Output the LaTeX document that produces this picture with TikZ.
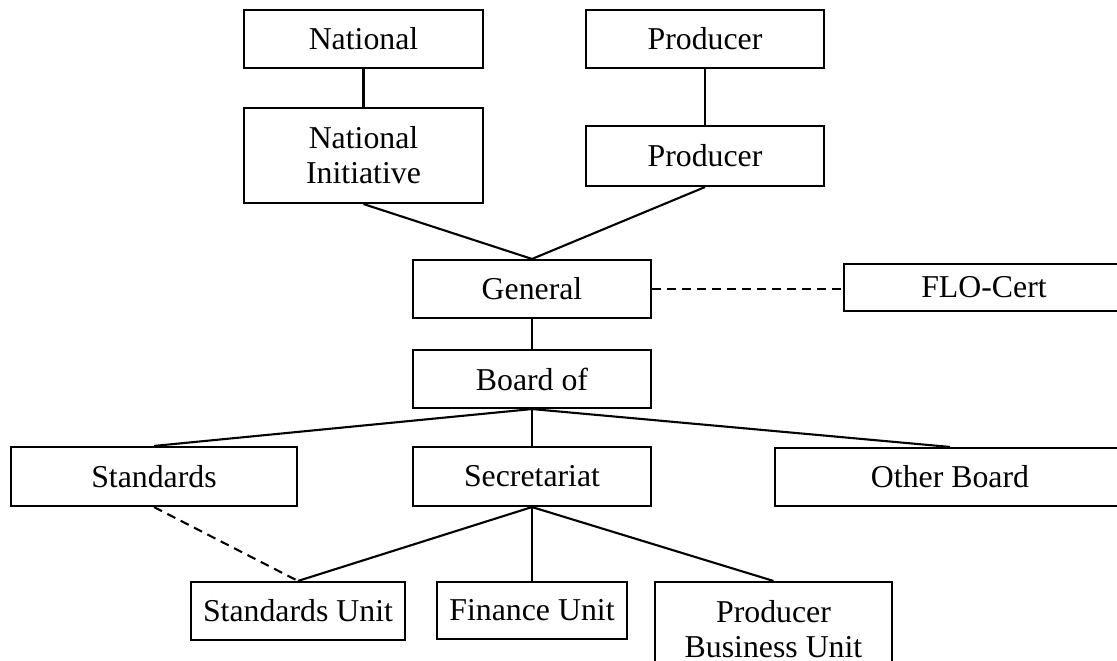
\documentclass[tikz,border=0pt]{standalone}
\usepackage{fontspec}
\setmainfont{Liberation Serif}
\begin{document}
\begin{tikzpicture}[x=1pt,y=-1pt,
  box/.style={draw, line width=2.1pt, inner sep=0pt, align=center,
    font=\fontsize{31.8}{35}\selectfont},
  link/.style={line width=2.1pt},
  dlink/.style={line width=2.1pt, dash pattern=on 9pt off 6pt}]
\useasboundingbox (0,0) rectangle (1117,661);
\clip (0,0) rectangle (1117,661);
\fill[white] (0,0) rectangle (1117,661);
% top row
\node[box, minimum width=239, minimum height=58] (nat) at (363.5,39) {National};
\node[box, minimum width=238, minimum height=58] (prod) at (705,39) {Producer};
\node[box, minimum width=239, minimum height=95] (natinit) at (363.5,155.5) {National\\Initiative};
\node[box, minimum width=238, minimum height=60] (prod2) at (705,156) {Producer};
% middle
\node[box, minimum width=238, minimum height=58] (gen) at (532,289) {General};
\node[box, minimum width=280, minimum height=47] (flo) at (984,287.5) {FLO-Cert};
\node[box, minimum width=238, minimum height=58] (board) at (532,379) {Board of};
% third row
\node[box, minimum width=286, minimum height=59] (std) at (154,476.5) {Standards};
\node[box, minimum width=238, minimum height=59] (sec) at (532,476.5) {Secretariat};
\node[box, minimum width=350, minimum height=58] (other) at (950,477) {Other Board};
% bottom row
\node[box, minimum width=214, minimum height=58] (stdu) at (298,611) {Standards Unit};
\node[box, minimum width=190, minimum height=57] (fin) at (532,610.5) {Finance Unit};
\node[box, minimum width=237, minimum height=95] (pbu) at (773.5,629.5) {Producer\\Business Unit};
% connectors
\draw[link] (nat.south) -- (natinit.north);
\draw[link] (prod.south) -- (prod2.north);
\draw[link] (natinit.south) -- (gen.north);
\draw[link] (prod2.south) -- (gen.north);
\draw[dlink] (gen.east) -- (flo.west |- gen.east);
\draw[link] (gen.south) -- (board.north);
\draw[link] (board.south) -- (std.north);
\draw[link] (board.south) -- (sec.north);
\draw[link] (board.south) -- (other.north);
\draw[link] (sec.south) -- (stdu.north);
\draw[link] (sec.south) -- (fin.north);
\draw[link] (sec.south) -- (pbu.north);
\draw[dlink] (std.south) -- (stdu.north);
\end{tikzpicture}
\end{document}
